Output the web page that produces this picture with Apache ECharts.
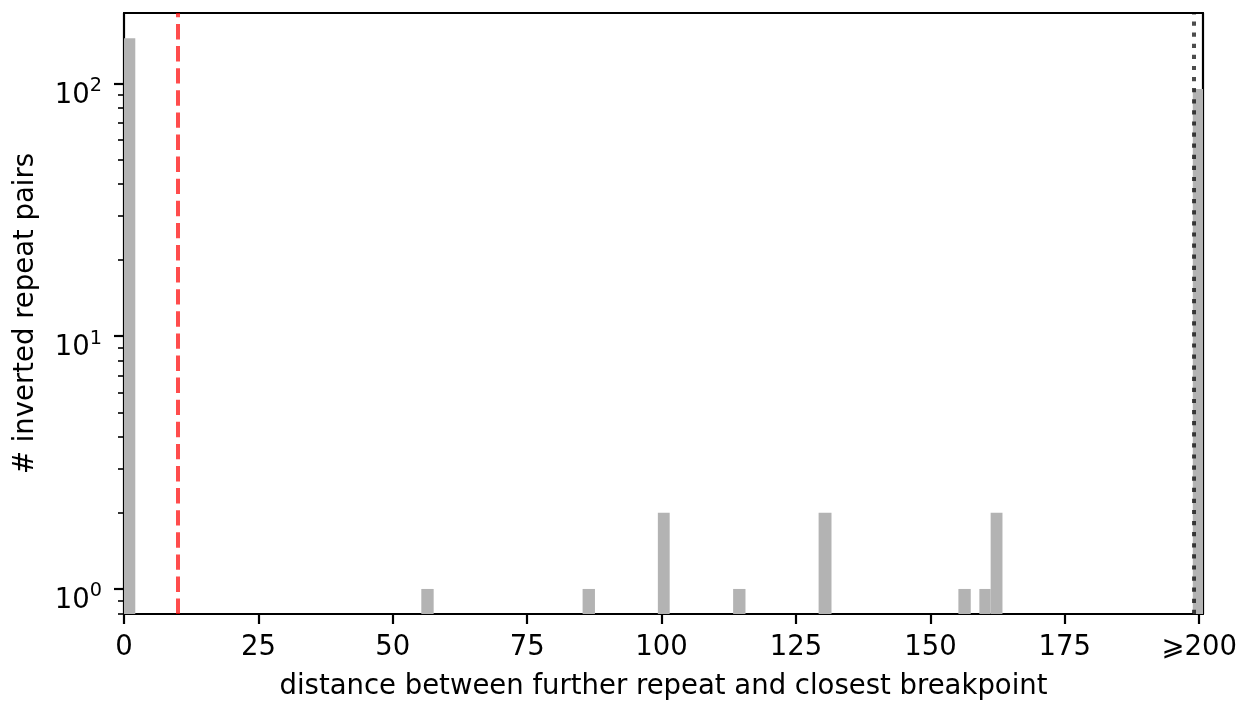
<!DOCTYPE html>
<html>
<head>
<meta charset="utf-8">
<script src="https://cdn.jsdelivr.net/npm/echarts@6/dist/echarts.min.js"></script>
<style>
  html, body { margin: 0; padding: 0; background: #fff; }
  #chart { width: 1248px; height: 707px; }
</style>
</head>
<body>
<div id="chart"></div>
<script>
// Histogram bins: left edge, right edge and count of inverted repeat pairs
const binStart = [0, 55.3, 85.3, 99.3, 113.3, 129.2, 155.2, 159.1, 161.2, 198.8];
const binEnd   = [2.1, 57.6, 87.6, 101.5, 115.6, 131.6, 157.5, 161.2, 163.4, 200.7];
const counts   = [151, 1, 1, 2, 1, 2, 1, 1, 2, 95];

// Axis ticks
const xTicks = [0, 25, 50, 75, 100, 125, 150, 175, 200];
const yMajorTicks = [1, 10, 100];
const yMinorTicks = [0.8, 0.9, 2, 3, 4, 5, 6, 7, 8, 9, 20, 30, 40, 50, 60, 70, 80, 90];

// Reference lines
const thresholdX = 10;   // red dashed line
const cutoffX = 199;     // dotted line before the ">=200" bin

const X_MIN = 0, X_MAX = 200.7;
const Y_MIN = 0.796, Y_MAX = 190;

const FONT = 'DejaVu Sans';
const FS = 27.5;
const LW = 2.2;

const data = binStart.map((s, i) => [s, binEnd[i], counts[i]]);

const chart = echarts.init(document.getElementById('chart'), null, { renderer: 'canvas' });

const sup = { 0: '0', 1: '1', 2: '2' };

chart.setOption({
  animation: false,
  backgroundColor: '#ffffff',
  textStyle: { fontFamily: FONT },
  grid: { left: 124, top: 13, width: 1079, height: 601, containLabel: false },
  xAxis: [
    {
      type: 'value', position: 'bottom', min: X_MIN, max: X_MAX,
      name: 'distance between further repeat and closest breakpoint',
      nameLocation: 'middle', nameGap: 59,
      nameTextStyle: { fontFamily: FONT, fontSize: FS, color: '#000', lineHeight: 28 },
      axisLine: { show: true, onZero: false, lineStyle: { color: '#000', width: LW } },
      axisTick: { show: true, length: 10, customValues: xTicks, lineStyle: { color: '#000', width: LW } },
      axisLabel: {
        show: true, customValues: xTicks, margin: 20, lineHeight: 28,
        fontFamily: FONT, fontSize: FS, color: '#000',
        formatter: v => (v === 200 ? '\u2A7E200' : String(v))
      },
      splitLine: { show: false }
    },
    {
      type: 'value', position: 'top', min: X_MIN, max: X_MAX,
      axisLine: { show: true, onZero: false, lineStyle: { color: '#000', width: LW } },
      axisTick: { show: false }, axisLabel: { show: false }, splitLine: { show: false }
    }
  ],
  yAxis: [
    {
      type: 'log', position: 'left', min: Y_MIN, max: Y_MAX, logBase: 10,
      name: '# inverted repeat pairs',
      nameLocation: 'middle', nameGap: 84, nameRotate: 90,
      nameTextStyle: { fontFamily: FONT, fontSize: FS, color: '#000', lineHeight: 28 },
      axisLine: { show: true, onZero: false, lineStyle: { color: '#000', width: LW } },
      axisTick: { show: true, length: 10, customValues: yMajorTicks, lineStyle: { color: '#000', width: LW } },
      axisLabel: {
        show: true, customValues: yMajorTicks, margin: 22,
        formatter: v => '{b|10}{s|' + sup[Math.round(Math.log10(v))] + '}',
        rich: {
          b: { fontFamily: FONT, fontSize: FS, color: '#000', lineHeight: 28, padding: [12, 0, 0, 0], verticalAlign: 'top' },
          s: { fontFamily: FONT, fontSize: 19.3, color: '#000', lineHeight: 20, padding: [7, 0, 0, 0], verticalAlign: 'top' }
        }
      },
      splitLine: { show: false }
    },
    {
      type: 'log', position: 'left', min: Y_MIN, max: Y_MAX, logBase: 10,
      axisLine: { show: false },
      axisTick: { show: true, length: 6, customValues: yMinorTicks, lineStyle: { color: '#000', width: 1.6 } },
      axisLabel: { show: false }, splitLine: { show: false }
    },
    {
      type: 'log', position: 'right', min: Y_MIN, max: Y_MAX, logBase: 10,
      axisLine: { show: true, onZero: false, lineStyle: { color: '#000', width: LW } },
      axisTick: { show: false }, axisLabel: { show: false }, splitLine: { show: false }
    }
  ],
  series: [
    {
      type: 'custom',
      xAxisIndex: 0,
      yAxisIndex: 0,
      clip: true,
      data: data,
      encode: { x: [0, 1], y: 2 },
      renderItem: function (params, api) {
        const p0 = api.coord([api.value(0), api.value(2)]);
        const p1 = api.coord([api.value(1), Y_MIN]);
        return {
          type: 'rect',
          shape: { x: p0[0], y: p0[1], width: p1[0] - p0[0], height: p1[1] - p0[1] },
          style: { fill: '#b3b3b3' }
        };
      },
      markLine: {
        silent: true,
        symbol: 'none',
        label: { show: false },
        animation: false,
        data: [
          { xAxis: thresholdX, lineStyle: { color: 'rgba(255,0,0,0.7)', width: 4, type: [15.4, 6.7] } },
          { xAxis: cutoffX, lineStyle: { color: 'rgba(0,0,0,0.7)', width: 4, type: [4.2, 6.9], cap: 'butt' } }
        ]
      }
    }
  ]
});
</script>
</body>
</html>
